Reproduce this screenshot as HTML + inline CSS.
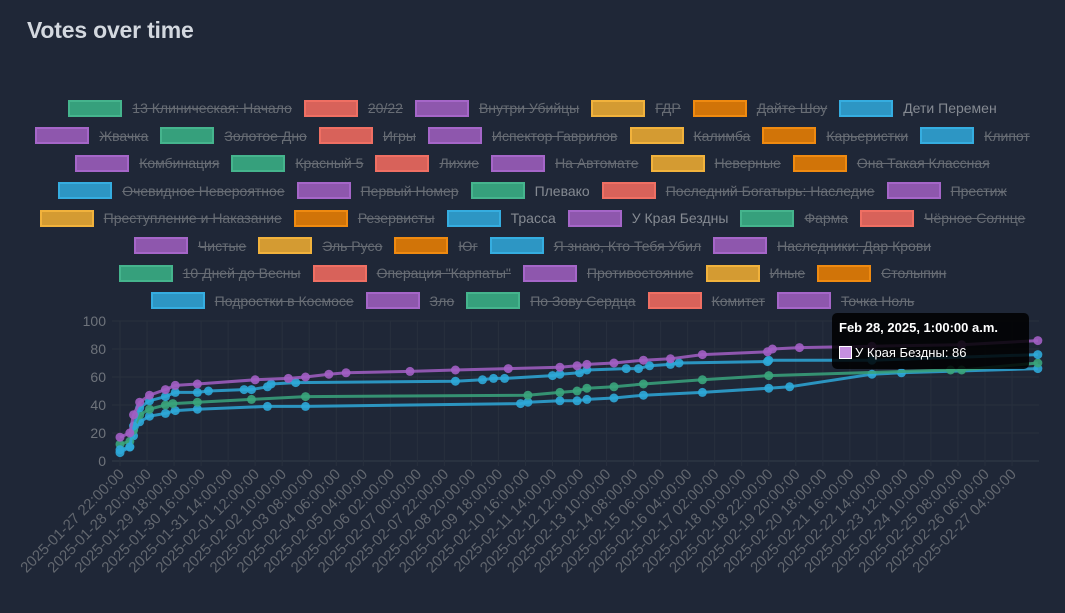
<!DOCTYPE html>
<html><head><meta charset="utf-8"><style>
body{margin:0;width:1065px;height:613px;background:#1f2737;overflow:hidden;font-family:"Liberation Sans","DejaVu Sans",sans-serif;position:relative}
#title{position:absolute;left:27px;top:17px;font-size:23px;color:#d3d8df;font-weight:bold;letter-spacing:-0.2px}
.row{position:absolute;left:0;width:1065px;display:flex;justify-content:center;height:18px;align-items:center}
.it{display:flex;align-items:center;margin:0 6px;font-size:14px;color:#676c74;text-decoration:line-through;white-space:nowrap}
.it.on{text-decoration:none;color:#858a92}
.bx{width:50px;height:13px;border:2px solid;margin-right:10px}
#tip{position:absolute;left:832px;top:313px;width:197px;height:56px;background:rgba(0,0,0,0.85);border-radius:5px;color:#fff;font-size:13px}
</style></head><body>
<div id="title">Votes over time</div>
<div id="legend"></div>
<svg id="chart" width="1065" height="613" style="position:absolute;left:0;top:0"></svg>
<div id="tip">
<div style="position:absolute;left:7px;top:7px;font-weight:bold">Feb 28, 2025, 1:00:00 a.m.</div>
<div style="position:absolute;left:7px;top:32px;display:flex;align-items:center"><span style="display:inline-block;width:11px;height:11px;background:#c58fe0;border:1px solid #fff;margin-right:3px"></span>У Края Бездны: 86</div>
</div>
<script>
const legendRows=[
[["13 Клиническая: Начало","g",0],["20/22","r",0],["Внутри Убийцы","p",0],["ГДР","y",0],["Дайте Шоу","o",0],["Дети Перемен","b",1]],
[["Жвачка","p",0],["Золотое Дно","g",0],["Игры","r",0],["Испектор Гаврилов","p",0],["Калимба","y",0],["Карьеристки","o",0],["Клипот","b",0]],
[["Комбинация","p",0],["Красный 5","g",0],["Лихие","r",0],["На Автомате","p",0],["Неверные","y",0],["Она Такая Классная","o",0]],
[["Очевидное Невероятное","b",0],["Первый Номер","p",0],["Плевако","g",1],["Последний Богатырь: Наследие","r",0],["Престиж","p",0]],
[["Преступление и Наказание","y",0],["Резервисты","o",0],["Трасса","b",1],["У Края Бездны","p",1],["Фарма","g",0],["Чёрное Солнце","r",0]],
[["Чистые","p",0],["Эль Русо","y",0],["Юг","o",0],["Я знаю, Кто Тебя Убил","b",0],["Наследники: Дар Крови","p",0]],
[["10 Дней до Весны","g",0],["Операция \"Карпаты\"","r",0],["Противостояние","p",0],["Иные","y",0],["Столыпин","o",0]],
[["Подростки в Космосе","b",0],["Зло","p",0],["По Зову Сердца","g",0],["Комитет","r",0],["Точка Ноль","p",0]]];
const C={g:["#36a07c","#45b48d"],r:["#d8625a","#ef6f63"],p:["#8e57ad","#a566c8"],y:["#d49b32","#f1b23c"],o:["#d17408","#ef8a10"],b:["#2d96c4","#35ade0"]};
const L=document.getElementById('legend');
legendRows.forEach((r,i)=>{const d=document.createElement('div');d.className='row';d.style.top=(99+i*27.5)+'px';


r.forEach(([t,c,on])=>{const s=document.createElement('div');s.className='it'+(on?' on':'');


s.innerHTML='<span class="bx" style="background:'+C[c][0]+';border-color:'+C[c][1]+'"></span>'+t;d.appendChild(s);});L.appendChild(d);});

// data: hours since 2025-01-27 22:00
const purpleH=[0,8,11,16,24,37,45,63,110,137,151,170,184,236,273,316,358,372,380,402,426,448,474,527,531,553,612,685,747];
const purpleV=[17,20,33,42,47,51,54,55,58,59,60,62,63,64,65,66,67,68,69,70,72,73,76,78,80,81,82,83,86];
const trassaH=[0,8,11,16,24,37,45,63,72,101,107,120,123,143,273,295,304,313,352,358,374,380,412,422,431,448,455,527,528,612,747];
const trassaV=[8,10,25,38,43,46,49,49,50,51,51,53,55,56,57,58,59,59,61,62,63,65,66,66,68,69,70,71,72,72,76];
const plevakoH=[0,8,11,16,24,37,43,63,107,151,332,358,372,380,402,426,474,528,676,685,747];
const plevakoV=[12,14,22,33,37,40,41,42,44,46,47,49,50,52,53,55,58,61,65,65,70];
const detiH=[0,8,11,16,24,37,45,63,120,151,326,332,358,372,380,402,426,474,528,545,612,636,747];
const detiV=[6,10,18,28,32,34,36,37,39,39,41,42,43,43,44,45,47,49,52,53,62,63,66];
const yTicks=[0,20,40,60,80,100];
const xTicks=["2025-01-27 22:00:00","2025-01-28 20:00:00","2025-01-29 18:00:00","2025-01-30 16:00:00","2025-01-31 14:00:00","2025-02-01 12:00:00","2025-02-02 10:00:00","2025-02-03 08:00:00","2025-02-04 06:00:00","2025-02-05 04:00:00","2025-02-06 02:00:00","2025-02-07 00:00:00","2025-02-07 22:00:00","2025-02-08 20:00:00","2025-02-09 18:00:00","2025-02-10 16:00:00","2025-02-11 14:00:00","2025-02-12 12:00:00","2025-02-13 10:00:00","2025-02-14 08:00:00","2025-02-15 06:00:00","2025-02-16 04:00:00","2025-02-17 02:00:00","2025-02-18 00:00:00","2025-02-18 22:00:00","2025-02-19 20:00:00","2025-02-20 18:00:00","2025-02-21 16:00:00","2025-02-22 14:00:00","2025-02-23 12:00:00","2025-02-24 10:00:00","2025-02-25 08:00:00","2025-02-26 06:00:00","2025-02-27 04:00:00"];
const X=h=>120+h*1.2287, Y=v=>461-v*1.4;
const S=document.getElementById('chart'),NS='http://www.w3.org/2000/svg';
function el(t,a){const e=document.createElementNS(NS,t);for(const k in a)e.setAttribute(k,a[k]);S.appendChild(e);return e;}
yTicks.forEach(v=>{const l=el('line',{x1:112,x2:1039,y1:Y(v),y2:Y(v),stroke:v===0?'#333c4a':'#28303e','stroke-width':1});


const t=el('text',{x:106,y:Y(v)+5,'text-anchor':'end','font-size':14,fill:'#6e737b'});t.textContent=v;

});
xTicks.forEach((s,i)=>{const x=X(i*22);const l=el('line',{x1:x,x2:x,y1:Y(100),y2:466,stroke:'#28303e'});


const t=el('text',{x:x+5,y:475,'text-anchor':'end','font-size':15,fill:'#62676f',transform:'rotate(-45 '+(x+5)+' 475)'});t.textContent=s;

});
function series(H,V,col,name){const p=H.map((h,i)=>X(h)+','+Y(V[i])).join(' ');
const pl=el('polyline',{points:p,fill:'none',stroke:col,'stroke-width':3,'stroke-opacity':0.85,'stroke-linejoin':'round'});


H.forEach((h,i)=>{const c=el('circle',{cx:X(h),cy:Y(V[i]),r:4.5,fill:col,'fill-opacity':0.9});

});}
series(detiH,detiV,'#2ea8d8','deti-peremen');
series(plevakoH,plevakoV,'#3aa57c','plevako');
series(trassaH,trassaV,'#2ea8d8','trassa');
series(purpleH,purpleV,'#a25fc4','u-kraya-bezdny');
</script>
</body></html>
